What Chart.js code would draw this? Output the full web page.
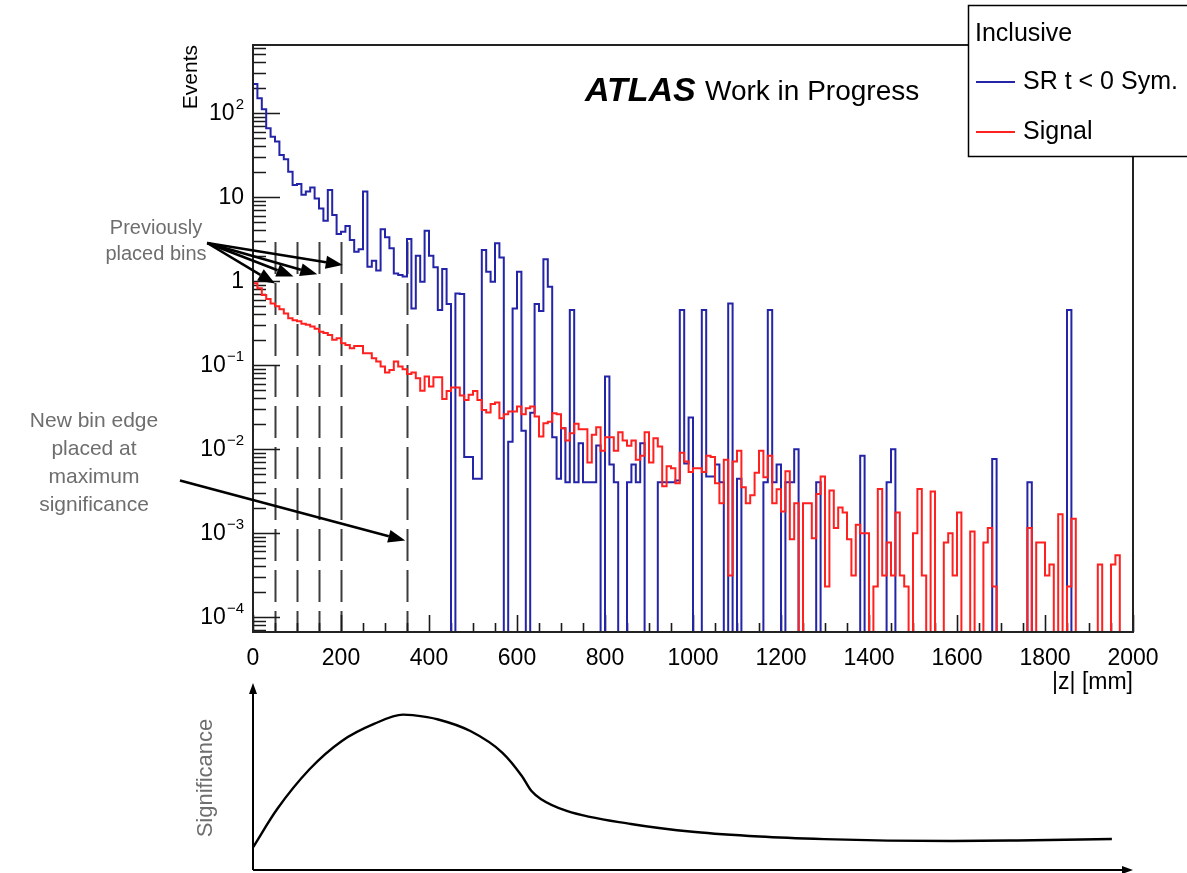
<!DOCTYPE html>
<html>
<head>
<meta charset="utf-8">
<script src="https://cdn.jsdelivr.net/npm/chart.js@4.4.1/dist/chart.umd.min.js"></script>
<style>
  body { margin: 0; background: #fff; width: 1187px; height: 873px; position: relative; overflow: hidden; }
  #main { position: absolute; left: 0; top: 0; }
  #sig { position: absolute; left: 0; top: 673px; }
</style>
</head>
<body>
<canvas id="main" width="1187" height="873"></canvas>
<canvas id="sig" width="1187" height="200"></canvas>
<script>
// |z| histogram, 10 mm bins from 0 to 2000 mm
const BIN_WIDTH = 10;
const Z_MIN = 0, Z_MAX = 2000;
const Y_MIN = 6.6e-5, Y_MAX = 645;

// SR t < 0 Sym. (events per bin)
const srCounts = [
  297, 221, 150, 111, 65.7, 52.2, 45.6, 31.6, 28.1, 20,
  13.9, 14.3, 10.6, 11.6, 13.0, 9.6, 7.3, 5.2, 12.1, 6.1,
  3.63, 3.86, 4.52, 3.08, 2.23, 2.38, 11.6, 1.48, 1.74, 1.33,
  4.12, 3.31, 2.45, 1.23, 1.18, 1.13, 3.16, 0.47, 1.99, 0.98,
  3.97, 1.99, 1.46, 0.45, 1.39, 0.53, 0, 0.71, 0.70, 0.008,
  0.008, 0.0044, 0.0044, 2.34, 1.29, 0.98, 2.81, 1.9, 0, 0.0122,
  0.47, 1.29, 0.0164, 0, 0.027, 0.53, 0.44, 1.81, 0.855, 0.0138,
  0.0044, 0.0176, 0.004, 0.45, 0.004, 0.0117, 0.004, 0.004, 0.004, 0.011,
  0, 0.073, 0.0065, 0.004, 0, 0, 0.004, 0.0065, 0.004, 0.0117,
  0, 0, 0, 0.004, 0.004, 0.004, 0.004, 0.0042, 0.45, 0.0067,
  0.0236, 0, 0, 0.45, 0.0047, 0.0047, 0.0065, 0.004, 0, 0.54,
  0, 0.0044, 0, 0, 0, 0, 0, 0.004, 0.45, 0.004,
  0.0065, 0, 0.004, 0.004, 0.0099, 0, 0, 0, 0, 0.004,
  0, 0, 0, 0, 0, 0, 0, 0, 0, 0.0083,
  0, 0, 0, 0, 0, 0.004, 0.0099, 0, 0, 0,
  0, 0, 0, 0, 0, 0, 0, 0, 0, 0,
  0, 0, 0, 0, 0, 0, 0, 0, 0, 0.0076,
  0, 0, 0, 0, 0, 0, 0, 0.004, 0, 0,
  0, 0, 0, 0, 0, 0, 0.45, 0, 0, 0,
  0, 0, 0, 0, 0, 0, 0, 0, 0, 0
];

// Signal (events per bin)
const signalCounts = [
  1.08, 0.94, 0.82, 0.68, 0.61, 0.54, 0.50, 0.46, 0.41, 0.36,
  0.34, 0.33, 0.31, 0.30, 0.286, 0.27, 0.249, 0.24, 0.227, 0.199,
  0.208, 0.181, 0.173, 0.158, 0.168, 0.168, 0.138, 0.138, 0.12, 0.11,
  0.0955, 0.081, 0.087, 0.110, 0.0955, 0.0888, 0.078, 0.081, 0.0694, 0.0494,
  0.0726, 0.0552, 0.0713, 0.0713, 0.0394, 0.049, 0.0537, 0.0537, 0.0431, 0.0383,
  0.044, 0.049, 0.0383, 0.0291, 0.0271, 0.0343, 0.0356, 0.0232, 0.0259, 0.0278,
  0.0278, 0.0319, 0.0259, 0.0305, 0.0319, 0.0243, 0.014, 0.0202, 0.0211, 0.0266,
  0.0259, 0.0176, 0.0126, 0.0154, 0.0199, 0.0171, 0.0171, 0.0069, 0.0147, 0.0181,
  0.0095, 0.0138, 0.0138, 0.0095, 0.0158, 0.0126, 0.0109, 0.0126, 0.0074, 0.0083,
  0.0158, 0.0069, 0.0134, 0.0107, 0.0036, 0.0062, 0.0059, 0.0039, 0.009, 0.0071,
  0.0053, 0.0059, 0.0059, 0.0053, 0.0083, 0.008, 0.0039, 0.00225, 0.0074, 0.00031,
  0.0071, 0.0095, 0.0035, 0.00225, 0.0028, 0.0052, 0.0095, 0.0046, 0.0083, 0.00225,
  0.0033, 0.0018, 0.0054, 0.00084, 0.00225, 0, 0.00225, 0.00225, 0.00086, 0.0029,
  0.0047, 0.00023, 0.0032, 0.00114, 0.002, 0.00175, 0.00084, 0.00031, 0.00125, 0.00099,
  0.00099, 0, 0.00023, 0.00334, 0.00031, 0.00077, 0.00031, 0.00175, 0.00031, 0.00023,
  0, 0.00099, 0.00334, 0.00031, 0, 0.0031, 0, 0, 0.00077, 0.00099,
  0.00031, 0.00175, 0, 0, 0.00104, 0, 0, 0.00077, 0.00114, 0.00023,
  0, 0, 0, 0, 0, 0, 0, 0.00114, 0, 0.00077,
  0.00077, 0.00031, 0.00042, 0, 0.00167, 0, 0.00023, 0.00147, 0, 0,
  0, 0, 0, 0.00042, 0, 0, 0.00042, 0.00054, 0, 0
];

// axis ticks
const X_LABELS = [0, 200, 400, 600, 800, 1000, 1200, 1400, 1600, 1800, 2000];
const X_MINOR_STEP = 50;
const Y_DECADES = [1e-4, 1e-3, 1e-2, 1e-1, 1, 10, 100];
const Y_LABELS = [["10", "\u22124"], ["10", "\u22123"], ["10", "\u22122"], ["10", "\u22121"], ["1", ""], ["10", ""], ["10", "2"]];

// bin edges (mm)
const PLACED_EDGES = [50, 100, 150, 200];
const NEW_EDGE = 350;
const EDGE_TOP = 2.9;

// arrow ends as [z, events]
const PLACED_ARROW_TAIL = [-104, 2.83];
const PLACED_ARROW_HEADS = [[50, 0.93], [92, 1.13], [146, 1.2], [204, 1.55]];
const NEW_ARROW = [[-166, 0.0042], [346, 0.00081]];

// sketched significance vs. bin edge position
const sigZ =   [0, 55, 129, 202, 275, 341, 363, 421, 494, 567, 611, 633, 654, 713, 859, 1005, 1151, 1298, 1443, 1589, 1736, 1952];
const sigVal = [0.121, 0.326, 0.540, 0.690, 0.781, 0.831, 0.828, 0.805, 0.743, 0.627, 0.503, 0.422, 0.380, 0.316, 0.246, 0.203, 0.179, 0.165, 0.157, 0.155, 0.158, 0.166];

const FONT = '"Liberation Sans", Arial, Helvetica, sans-serif';
const EMPTY = 1e-9; // empty bins drop below the frame

function histPoints(counts) {
  const pts = counts.map((c, i) => ({ x: Z_MIN + i * BIN_WIDTH, y: c > 0 ? c : EMPTY }));
  pts.push({ x: Z_MIN + counts.length * BIN_WIDTH, y: pts[pts.length - 1].y });
  return pts;
}

function arrow(ctx, x0, y0, x1, y1, head, half, width) {
  const ang = Math.atan2(y1 - y0, x1 - x0);
  const bx = x1 - head * Math.cos(ang), by = y1 - head * Math.sin(ang);
  ctx.lineWidth = width;
  ctx.beginPath(); ctx.moveTo(x0, y0); ctx.lineTo(bx, by); ctx.stroke();
  ctx.beginPath();
  ctx.moveTo(x1, y1);
  ctx.lineTo(bx + half * Math.sin(ang), by - half * Math.cos(ang));
  ctx.lineTo(bx - half * Math.sin(ang), by + half * Math.cos(ang));
  ctx.closePath(); ctx.fill();
}

const histDecor = {
  id: 'histDecor',
  beforeDatasetsDraw(chart) {
    const { ctx, chartArea: a, scales: { x, y } } = chart;
    ctx.save();
    // dashed bin edges
    ctx.strokeStyle = '#3c3c3c';
    ctx.lineWidth = 2;
    ctx.setLineDash([32, 9]);
    [...PLACED_EDGES, NEW_EDGE].forEach(e => {
      const px = Math.round(x.getPixelForValue(e)) + 0.5;
      ctx.beginPath();
      ctx.moveTo(px, y.getPixelForValue(EDGE_TOP));
      ctx.lineTo(px, a.bottom);
      ctx.stroke();
    });
    ctx.setLineDash([]);

    // ticks pointing into the frame
    ctx.strokeStyle = '#1a1a1a';
    ctx.lineWidth = 1.6;
    ctx.beginPath();
    for (let v = Z_MIN; v <= Z_MAX; v += X_MINOR_STEP) {
      const px = Math.round(x.getPixelForValue(v)) + 0.5;
      const len = v % 200 === 0 ? 17 : 9;
      ctx.moveTo(px, a.bottom); ctx.lineTo(px, a.bottom - len);
    }
    for (let d = -5; d <= 3; d++) {
      for (let m = 1; m <= 9; m++) {
        const v = m * Math.pow(10, d);
        if (v < Y_MIN || v > Y_MAX) continue;
        const py = Math.round(y.getPixelForValue(v)) + 0.5;
        const len = m === 1 ? 27 : 13;
        ctx.moveTo(a.left, py); ctx.lineTo(a.left + len, py);
      }
    }
    ctx.stroke();
    ctx.restore();
  },
  afterDraw(chart) {
    const { ctx, chartArea: a, scales: { x, y } } = chart;
    ctx.save();

    // frame
    ctx.strokeStyle = '#222';
    ctx.lineWidth = 2;
    ctx.strokeRect(a.left, a.top, a.right - a.left, a.bottom - a.top);

    // x labels
    ctx.fillStyle = '#000';
    ctx.font = '23px ' + FONT;
    ctx.textAlign = 'center';
    ctx.textBaseline = 'middle';
    X_LABELS.forEach(v => ctx.fillText(String(v), x.getPixelForValue(v), a.bottom + 27));

    // y labels with exponents
    Y_DECADES.forEach((v, i) => {
      const [base, exp] = Y_LABELS[i];
      const cy = y.getPixelForValue(v);
      ctx.font = '23px ' + FONT;
      const wb = ctx.measureText(base).width;
      ctx.font = '15px ' + FONT;
      const we = exp ? ctx.measureText(exp).width + 1 : 0;
      const left = a.left - 9 - wb - we;
      ctx.textAlign = 'left';
      ctx.font = '23px ' + FONT;
      ctx.fillText(base, left, cy + 1);
      if (exp) {
        ctx.font = '15px ' + FONT;
        ctx.fillText(exp, left + wb + 1, cy - 8);
      }
    });

    // axis titles
    ctx.font = '23px ' + FONT;
    ctx.textAlign = 'right';
    ctx.fillText('|z| [mm]', a.right, a.bottom + 51);
    ctx.save();
    ctx.translate(191, a.top);
    ctx.rotate(-Math.PI / 2);
    ctx.font = '21px ' + FONT;
    ctx.textAlign = 'right';
    ctx.fillText('Events', 0, 0);
    ctx.restore();

    // experiment label
    ctx.textAlign = 'left';
    ctx.textBaseline = 'alphabetic';
    ctx.font = 'italic bold 34px ' + FONT;
    ctx.fillText('ATLAS', 585, 101);
    ctx.font = '28px ' + FONT;
    ctx.fillText('Work in Progress', 705, 100);

    // legend
    ctx.fillStyle = '#fff';
    ctx.fillRect(968, 5, 240, 152);
    ctx.strokeStyle = '#000';
    ctx.lineWidth = 1.5;
    ctx.strokeRect(968.5, 5.5, 240, 151);
    ctx.fillStyle = '#000';
    ctx.textBaseline = 'middle';
    ctx.font = '25px ' + FONT;
    ctx.fillText('Inclusive', 975, 34);
    chart.data.datasets.slice().reverse().forEach((ds, i) => {
      const ly = 82 + i * 50;
      ctx.strokeStyle = ds.borderColor;
      ctx.lineWidth = 2;
      ctx.beginPath(); ctx.moveTo(976, ly); ctx.lineTo(1015, ly); ctx.stroke();
      ctx.fillText(ds.label, 1023, ly);
    });

    // annotations
    ctx.fillStyle = '#6e6e6e';
    ctx.textAlign = 'center';
    ctx.font = '20px ' + FONT;
    ctx.fillText('Previously', 156, 228);
    ctx.fillText('placed bins', 156, 254);
    ctx.font = '21px ' + FONT;
    ['New bin edge', 'placed at', 'maximum', 'significance'].forEach((t, i) => ctx.fillText(t, 94, 421 + i * 28));

    ctx.fillStyle = '#000';
    ctx.strokeStyle = '#000';
    const tx = x.getPixelForValue(PLACED_ARROW_TAIL[0]), ty = y.getPixelForValue(PLACED_ARROW_TAIL[1]);
    PLACED_ARROW_HEADS.forEach(([hz, hv]) => {
      arrow(ctx, tx, ty, x.getPixelForValue(hz), y.getPixelForValue(hv), 17, 6.5, 2.6);
    });
    arrow(ctx, x.getPixelForValue(NEW_ARROW[0][0]), y.getPixelForValue(NEW_ARROW[0][1]),
          x.getPixelForValue(NEW_ARROW[1][0]), y.getPixelForValue(NEW_ARROW[1][1]), 17, 6.5, 2.6);
    ctx.restore();
  }
};

new Chart(document.getElementById('main'), {
  type: 'line',
  data: {
    datasets: [
      { label: 'Signal', data: histPoints(signalCounts), borderColor: '#ff2020', borderWidth: 2, stepped: 'after', pointRadius: 0, fill: false },
      { label: 'SR t < 0 Sym.', data: histPoints(srCounts), borderColor: '#2424a8', borderWidth: 2, stepped: 'after', pointRadius: 0, fill: false }
    ]
  },
  options: {
    responsive: false,
    animation: false,
    layout: { padding: { left: 253, right: 54, top: 45, bottom: 241 } },
    plugins: { legend: { display: false }, tooltip: { enabled: false } },
    scales: {
      x: { type: 'linear', min: Z_MIN, max: Z_MAX, display: false },
      y: { type: 'logarithmic', min: Y_MIN, max: Y_MAX, display: false }
    }
  },
  plugins: [histDecor]
});

const sigAxes = {
  id: 'sigAxes',
  afterDraw(chart) {
    const { ctx, chartArea: a } = chart;
    ctx.save();
    ctx.fillStyle = '#000';
    ctx.strokeStyle = '#000';
    arrow(ctx, a.left, a.bottom, a.left, a.top, 11, 4, 2);
    arrow(ctx, a.left, a.bottom, a.right, a.bottom, 11, 4, 2);
    ctx.translate(206, 105);
    ctx.rotate(-Math.PI / 2);
    ctx.fillStyle = '#6e6e6e';
    ctx.font = '22px ' + FONT;
    ctx.textAlign = 'center';
    ctx.textBaseline = 'middle';
    ctx.fillText('Significance', 0, 0);
    ctx.restore();
  }
};

new Chart(document.getElementById('sig'), {
  type: 'line',
  data: {
    datasets: [{
      data: sigZ.map((z, i) => ({ x: z, y: sigVal[i] })),
      borderColor: '#000', borderWidth: 2.4, pointRadius: 0,
      cubicInterpolationMode: 'monotone', fill: false
    }]
  },
  options: {
    responsive: false,
    animation: false,
    layout: { padding: { left: 253, right: 54, top: 10, bottom: 3 } },
    plugins: { legend: { display: false }, tooltip: { enabled: false } },
    scales: {
      x: { type: 'linear', min: Z_MIN, max: Z_MAX, display: false },
      y: { min: 0, max: 1, display: false }
    }
  },
  plugins: [sigAxes]
});
</script>
</body>
</html>
